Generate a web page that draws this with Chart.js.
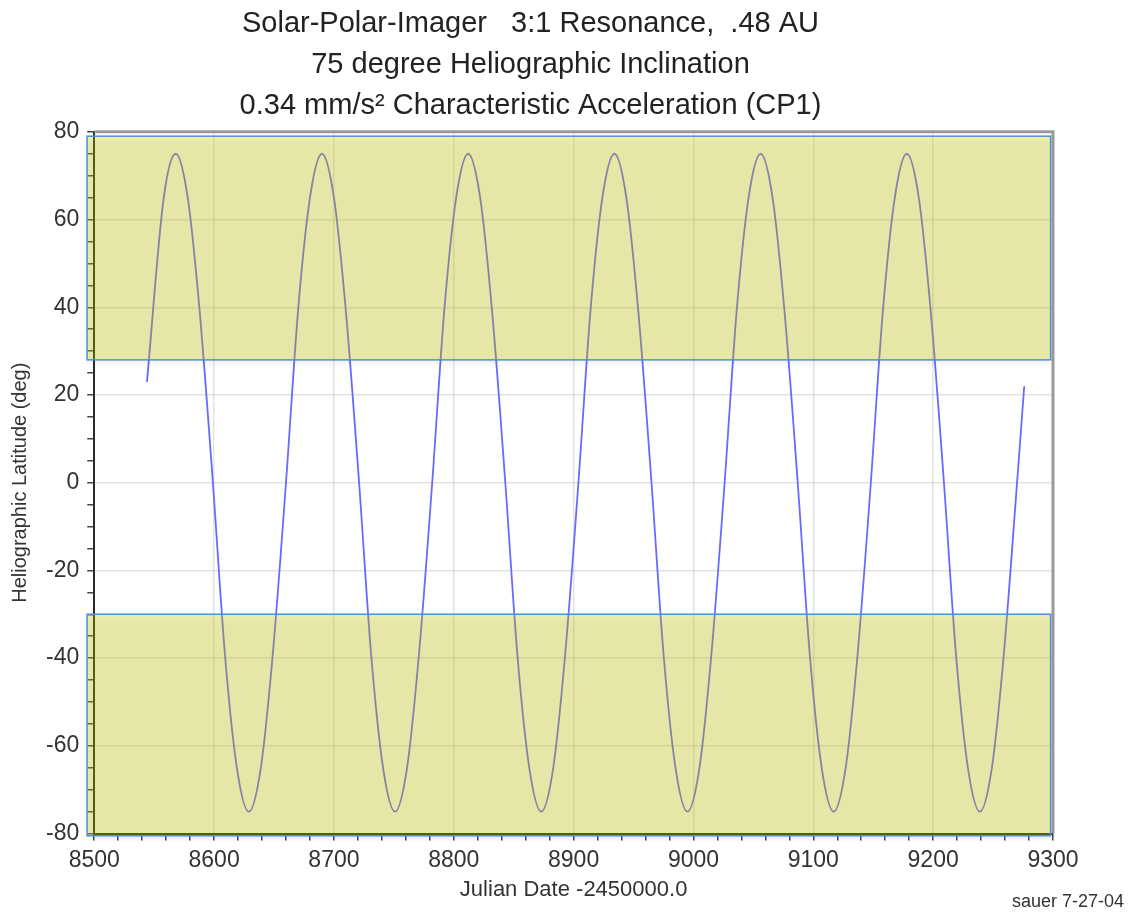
<!DOCTYPE html>
<html>
<head>
<meta charset="utf-8">
<script src="https://cdn.jsdelivr.net/npm/chart.js@4.4.1/dist/chart.umd.min.js"></script>
<style>
  body { margin: 0; background: #fff; }
  canvas { display: block; }
</style>
</head>
<body>
<canvas id="latChart" width="1132" height="912"></canvas>
<script>
// Julian date (-2450000) and heliographic latitude
const julianDate = [
  8544, 8558, 8568, 8578, 8588, 8599, 8609, 8619, 8629, 8639, 8649, 8660, 8670, 8680,
  8690, 8700, 8710, 8721, 8731, 8741, 8751, 8761, 8771, 8782, 8792, 8802,
  8812, 8822, 8832, 8843, 8853, 8863, 8873, 8883, 8893, 8904, 8914, 8924,
  8934, 8944, 8954, 8965, 8975, 8985, 8995, 9005, 9015, 9026, 9036, 9046,
  9056, 9066, 9076, 9087, 9097, 9107, 9117, 9127, 9137, 9148, 9158, 9168,
  9178, 9188, 9198, 9209, 9219, 9229, 9239, 9249, 9259, 9270, 9276
];
const latitude = [
  23, 65, 75, 65, 39, 0, -39, -65, -75, -65, -39, 0, 39, 65,
  75, 65, 39, 0, -39, -65, -75, -65, -39, 0, 39, 65,
  75, 65, 39, 0, -39, -65, -75, -65, -39, 0, 39, 65,
  75, 65, 39, 0, -39, -65, -75, -65, -39, 0, 39, 65,
  75, 65, 39, 0, -39, -65, -75, -65, -39, 0, 39, 65,
  75, 65, 39, 0, -39, -65, -75, -65, -39, 0, 22
];

// shaded latitude bands (axis units)
const bandXFrom = [8494, 8494];
const bandXTo = [9298, 9298];
const bandYFrom = [28, -80.5];
const bandYTo = [79, -30];

const titleLines = [
  'Solar-Polar-Imager   3:1 Resonance,  .48 AU',
  '75 degree Heliographic Inclination',
  '0.34 mm/s\u00B2 Characteristic Acceleration (CP1)'
];

const FONT = '"Liberation Sans", Arial, sans-serif';

const bandsPlugin = {
  id: 'bands',
  beforeDatasetsDraw(chart) {
    const { ctx, chartArea: a } = chart;
    ctx.save();
    ctx.strokeStyle = '#9a9a9a';
    ctx.lineWidth = 3;
    ctx.beginPath();
    ctx.moveTo(a.left, a.top);
    ctx.lineTo(a.right, a.top);
    ctx.lineTo(a.right, a.bottom);
    ctx.stroke();
    ctx.restore();
  },
  afterDraw(chart) {
    const { ctx } = chart;
    const x = chart.scales.x, y = chart.scales.y;
    ctx.save();
    for (let i = 0; i < bandXFrom.length; i++) {
      const l = x.getPixelForValue(bandXFrom[i]);
      const r = x.getPixelForValue(bandXTo[i]);
      const t = y.getPixelForValue(bandYTo[i]);
      const b = y.getPixelForValue(bandYFrom[i]);
      ctx.save();
      ctx.shadowColor = 'rgba(0,0,0,0.18)';
      ctx.shadowBlur = 5;
      ctx.shadowOffsetY = 4;
      ctx.fillStyle = 'rgba(204,204,0,0.31)';
      ctx.fillRect(l, t, r - l, b - t);
      ctx.restore();
      ctx.strokeStyle = '#4d8fd6';
      ctx.lineWidth = 1.5;
      ctx.strokeRect(l, t, r - l, b - t);
    }
    ctx.fillStyle = '#333';
    ctx.font = '18px ' + FONT;
    ctx.textAlign = 'right';
    ctx.textBaseline = 'middle';
    ctx.fillText('sauer 7-27-04', 1124, 902);
    ctx.restore();
  }
};

const points = julianDate.map((d, i) => ({ x: d, y: latitude[i] }));

new Chart(document.getElementById('latChart'), {
  type: 'line',
  data: {
    datasets: [{
      data: points,
      borderColor: 'rgb(105,105,255)',
      borderWidth: 1.8,
      pointRadius: 0,
      cubicInterpolationMode: 'monotone',
      fill: false
    }]
  },
  options: {
    responsive: false,
    animation: false,
    layout: { padding: { left: 8, right: 79, top: 4, bottom: 9 } },
    plugins: {
      legend: { display: false },
      tooltip: { enabled: false },
      title: {
        display: true,
        text: titleLines,
        color: '#222',
        font: { family: FONT, size: 29, weight: 'normal', lineHeight: 1.4 },
        padding: { top: 0, bottom: 6 }
      }
    },
    scales: {
      x: {
        type: 'linear',
        min: 8500,
        max: 9300,
        border: { color: '#2a2a2a', width: 2 },
        grid: {
          color: c => (c.tick && c.tick.value % 100 === 0) ? 'rgba(0,0,0,0.11)' : 'rgba(0,0,0,0)',
          lineWidth: 1.5,
          tickColor: '#444',
          tickLength: 7
        },
        ticks: {
          stepSize: 20,
          autoSkip: false,
          maxRotation: 0,
          color: '#333',
          padding: 9,
          font: { family: FONT, size: 23, lineHeight: 1 },
          callback: v => (v % 100 === 0 ? v : '')
        },
        title: {
          display: true,
          text: 'Julian Date -2450000.0',
          color: '#333',
          font: { family: FONT, size: 22 },
          padding: { top: -5, bottom: 0 }
        }
      },
      y: {
        type: 'linear',
        min: -80,
        max: 80,
        border: { color: '#2a2a2a', width: 2 },
        grid: {
          color: c => (c.tick && c.tick.value % 20 === 0) ? 'rgba(0,0,0,0.11)' : 'rgba(0,0,0,0)',
          lineWidth: 1.5,
          tickColor: '#444',
          tickLength: 7
        },
        ticks: {
          stepSize: 5,
          autoSkip: false,
          color: '#333',
          padding: 8,
          font: { family: FONT, size: 23 },
          callback: v => (v % 20 === 0 ? v : '')
        },
        title: {
          display: true,
          text: 'Heliographic Latitude (deg)',
          color: '#333',
          font: { family: FONT, size: 20 },
          padding: { top: 0, bottom: 6 }
        }
      }
    }
  },
  plugins: [bandsPlugin]
});
</script>
</body>
</html>
